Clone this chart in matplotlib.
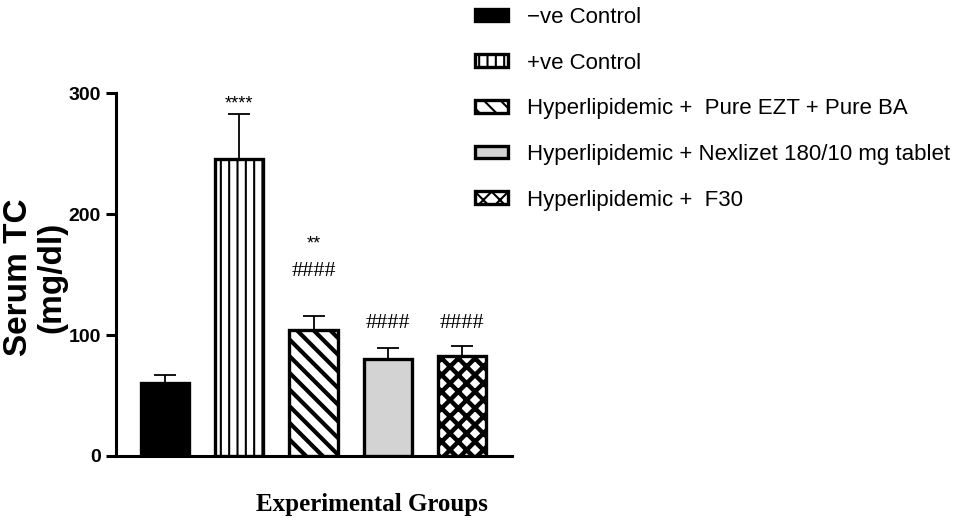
import matplotlib
matplotlib.use("Agg")
import matplotlib.pyplot as plt
from matplotlib.patches import Patch

# ---- data ----
groups = ["\u2212ve Control", "+ve Control", "Hyperlipidemic +  Pure EZT + Pure BA",
          "Hyperlipidemic + Nexlizet 180/10 mg tablet", "Hyperlipidemic +  F30"]
means = [60, 246, 104, 80, 83]
errors = [7, 37, 12, 9, 8]
sig_labels = [("****", 1, 291), ("**", 2, 175), ("####", 2, 153), ("####", 3, 110), ("####", 4, 110)]
yticks = [0, 100, 200, 300]

# ---- styles ----
faces = ["black", "white", "white", "#d3d3d3", "white"]
hatches = [None, "||", "\\\\", None, "xx"]
hatch_lw = [1.0, 1.5, 3.0, 1.0, 3.2]

plt.rcParams['font.family'] = ['Liberation Sans', 'DejaVu Sans']

fig = plt.figure(figsize=(9.6, 5.27), dpi=100)
ax = fig.add_axes([116/960, 1-456/527, (512-116)/960, (456-93.3)/527])

x = list(range(len(means)))
for i in x:
    plt.rcParams['hatch.linewidth'] = hatch_lw[i]
    b = ax.bar(i, means[i], width=0.65, color=faces[i], edgecolor="black",
               linewidth=2.4, hatch=hatches[i], zorder=3)
    for p in b:
        if hasattr(p, "set_hatch_linewidth"):
            p.set_hatch_linewidth(hatch_lw[i])
ax.errorbar(x, means, yerr=[[0]*len(errors), errors], fmt="none", ecolor="black",
            elinewidth=1.3, capsize=8, capthick=1.3, zorder=2)

for txt, i, yv in sig_labels:
    is_hash = txt.startswith('#')
    ax.text(i, yv, txt, ha="center", va="center", fontsize=16 if is_hash else 13,
            family=['Liberation Serif'] if is_hash else ['Liberation Sans'])

ax.set_xlim(-0.66, 4.67)
ax.set_ylim(0, 300)
ax.set_yticks(yticks)
ax.set_yticklabels([str(t) for t in yticks], fontsize=14, fontweight="bold")
ax.tick_params(axis="y", length=7, width=2.2, pad=4)
ax.set_xticks([])
for s in ["top", "right"]:
    ax.spines[s].set_visible(False)
for s in ["left", "bottom"]:
    ax.spines[s].set_linewidth(2.2)

fig.text(35/960, 1-277/527, "Serum TC\n(mg/dl)", rotation=90, ha="center", va="center",
         fontsize=24, fontweight="bold", multialignment="center", linespacing=1.1)
fig.text(372/960, 1-505/527, "Experimental Groups", ha="center", va="center",
         fontsize=18, fontweight="bold", family=["Liberation Serif"])

handles = []
for i in x:
    plt.rcParams['hatch.linewidth'] = min(hatch_lw[i], 1.5)
    handles.append(Patch(facecolor=faces[i], edgecolor="black", linewidth=2.4, hatch=hatches[i]))
fig.legend(handles, groups, loc="upper left", bbox_to_anchor=(475/960, 1-7/527),
           frameon=False, fontsize=16, handlelength=1.5, handleheight=0.5,
           handletextpad=0.85, labelspacing=1.11, borderpad=0, borderaxespad=0)

fig.savefig("out.png", dpi=100)
